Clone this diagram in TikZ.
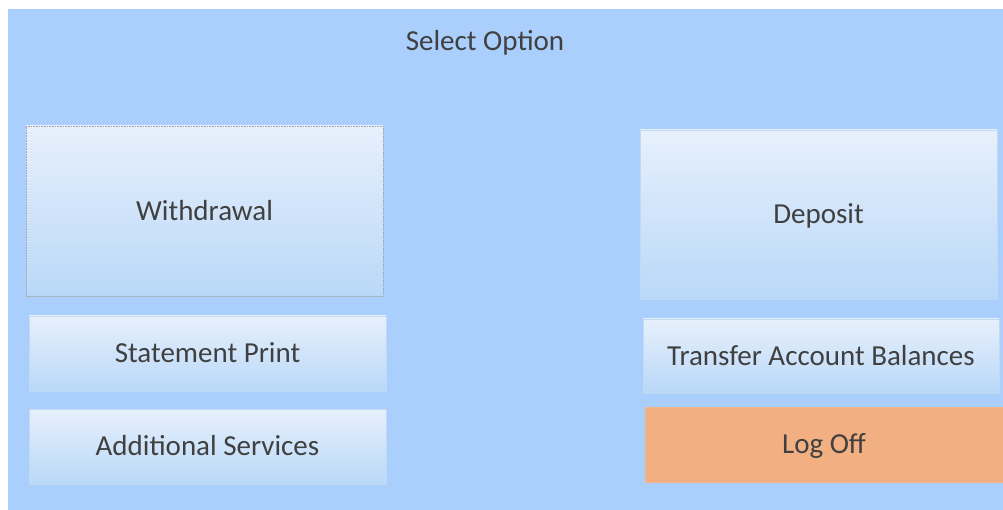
\documentclass[tikz,border=0pt]{standalone}
\usepackage{fontspec}
\setmainfont{Carlito}
\definecolor{bg}{HTML}{AACFFD}
\definecolor{btop}{HTML}{E7F0FC}
\definecolor{bbot}{HTML}{B9D8F8}
\definecolor{logoff}{HTML}{F2AF82}
\definecolor{txt}{HTML}{404040}
\definecolor{bedge}{HTML}{C2D9F2}
\tikzset{
  lbl/.style={text=txt, font=\fontsize{29}{34}\selectfont, text height=18.5pt, text depth=0pt},
  btn/.style={lbl, rectangle, top color=btop, bottom color=bbot, draw=bedge, line width=0.6pt},
  dotbtn/.style={btn, draw=gray!70, densely dotted},
  offbtn/.style={lbl, rectangle, fill=logoff, draw=logoff!90!white},
}
\begin{document}
\begin{tikzpicture}[x=1pt,y=-1pt]
\useasboundingbox (0,0) rectangle (1003,510);
\fill[white] (0,0) rectangle (1003,510);
\fill[bg] (8,9) rectangle (1003,510);
\node[lbl] (title) at (485,41) {Select Option};
\node[dotbtn, minimum width=357, minimum height=170] (wd) at (204.5,211) {Withdrawal};
\node[btn, minimum width=357, minimum height=169] (dep) at (818.5,214.5) {Deposit};
\node[btn, minimum width=357, minimum height=75] (sp) at (207.5,353.5) {Statement Print};
\node[btn, minimum width=357, minimum height=75] (as) at (207.5,446.5) {Additional Services};
\node[btn, minimum width=356, minimum height=74] (tab) at (821,356) {Transfer Account Balances};
\node[offbtn, minimum width=358, minimum height=75] (lo) at (824,444.5) {Log Off};
\end{tikzpicture}
\end{document}
